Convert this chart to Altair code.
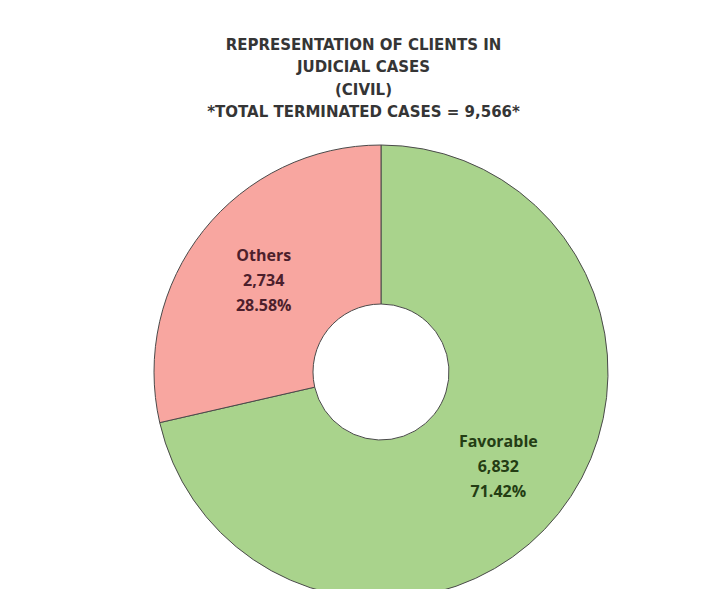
import altair as alt
import pandas as pd

categories = ["Favorable", "Others"]
counts = [6832, 2734]
percents = ["71.42%", "28.58%"]
fill_colors = ["#a9d38c", "#f8a6a0"]
text_colors = ["#243d14", "#4d1f2c"]
title_lines = [
    "REPRESENTATION OF CLIENTS IN",
    "JUDICIAL CASES",
    "(CIVIL)",
    "*TOTAL TERMINATED CASES = 9,566*",
]

df = pd.DataFrame({
    "category": categories,
    "count": counts,
    "pct": percents,
    "idx": list(range(len(categories))),
})
df["label"] = [f"{c}\n{n:,}\n{p}" for c, n, p in zip(categories, counts, percents)]

cx, cy = 373, 234

base = alt.Chart(df).encode(
    theta=alt.Theta("count:Q", stack=True),
    order=alt.Order("idx:Q"),
    x=alt.value(cx),
    y=alt.value(cy),
)

arcs = base.mark_arc(outerRadius=227, innerRadius=68, stroke="#4a4a4a", strokeWidth=1).encode(
    color=alt.Color("category:N", scale=alt.Scale(domain=categories, range=fill_colors), legend=None)
)

labels = base.mark_text(radius=150, dy=-23, lineBreak="\n", lineHeight=25, font="Open Sans",
                        fontSize=16, fontWeight="bold", align="center", baseline="middle").encode(
    text="label:N",
    color=alt.Color("category:N", scale=alt.Scale(domain=categories, range=text_colors), legend=None),
)

chart = alt.layer(arcs, labels).resolve_scale(color="independent").properties(
    width=699,
    height=451,
    padding={"left": 0, "top": 130, "right": 0, "bottom": 0},
    autosize=alt.AutoSizeParams(type="none"),
    background="white",
    title=alt.TitleParams(
        text=title_lines,
        anchor="middle",
        frame="group",
        dx=6,
        offset=18,
        font="DejaVu Sans",
        fontSize=15,
        fontWeight="bold",
        color="#353535",
        lineHeight=22.5,
    ),
).configure_view(stroke=None)

chart.save("out.html", embed_options={"renderer": "svg", "actions": False})
